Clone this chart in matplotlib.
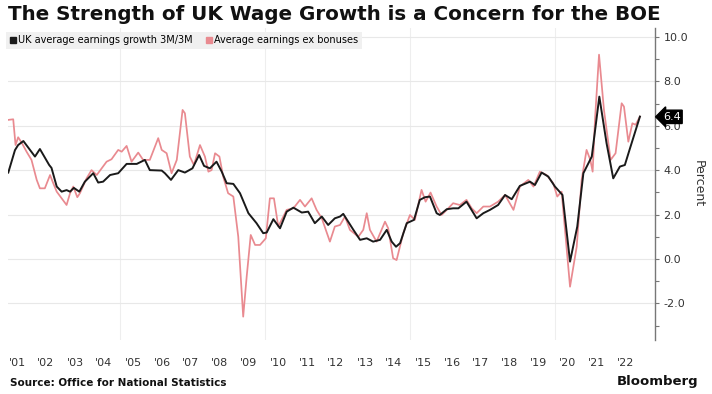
import numpy as np
import matplotlib
matplotlib.use("Agg")
import matplotlib.pyplot as plt
from matplotlib.lines import Line2D
from matplotlib.ticker import MultipleLocator, FixedLocator
from matplotlib.transforms import blended_transform_factory

# UK average earnings growth 3M/3M (fractional years)
total_t = [2001.15, 2001.38, 2001.49, 2001.67, 2002.07, 2002.24, 2002.56, 2002.64, 2002.82, 2002.99,
           2003.16, 2003.28, 2003.41, 2003.60, 2003.79, 2004.08, 2004.25, 2004.42, 2004.66, 2004.94,
           2005.23, 2005.58, 2005.86, 2006.03, 2006.44, 2006.55, 2006.76, 2007.01, 2007.24, 2007.50,
           2007.73, 2007.90, 2008.10, 2008.33, 2008.51, 2008.68, 2008.91, 2009.14, 2009.43, 2009.71,
           2009.94, 2010.06, 2010.29, 2010.52, 2010.75, 2010.98, 2011.27, 2011.49, 2011.72, 2011.96,
           2012.18, 2012.41, 2012.59, 2012.70, 2013.05, 2013.28, 2013.51, 2013.73, 2013.97, 2014.20,
           2014.37, 2014.52, 2014.66, 2014.89, 2015.14, 2015.34, 2015.52, 2015.69, 2015.92, 2016.03,
           2016.27, 2016.49, 2016.67, 2016.95, 2017.30, 2017.53, 2017.76, 2018.04, 2018.28, 2018.51,
           2018.79, 2019.14, 2019.31, 2019.54, 2019.77, 2020.00, 2020.26, 2020.52, 2020.77, 2020.98,
           2021.27, 2021.53, 2021.78, 2022.01, 2022.24, 2022.41, 2022.59, 2022.93]
total_v = [3.89, 4.90, 5.13, 5.31, 4.61, 4.95, 4.23, 4.10, 3.26, 3.03,
           3.10, 3.03, 3.20, 3.03, 3.48, 3.86, 3.44, 3.48, 3.78, 3.86,
           4.28, 4.28, 4.46, 4.00, 3.98, 3.86, 3.56, 4.00, 3.89, 4.08,
           4.68, 4.19, 4.08, 4.38, 3.93, 3.41, 3.38, 2.96, 2.06, 1.61,
           1.16, 1.19, 1.79, 1.38, 2.13, 2.31, 2.09, 2.13, 1.61, 1.91,
           1.53, 1.83, 1.91, 2.03, 1.31, 0.86, 0.93, 0.78, 0.86, 1.31,
           0.78, 0.55, 0.71, 1.61, 1.76, 2.66, 2.78, 2.81, 2.06, 1.98,
           2.24, 2.28, 2.28, 2.58, 1.83, 2.06, 2.21, 2.43, 2.88, 2.69,
           3.29, 3.48, 3.33, 3.89, 3.71, 3.26, 2.88, -0.12, 1.46, 3.86,
           4.61, 7.31, 5.21, 3.63, 4.16, 4.23, 4.99, 6.41]

# Average earnings ex bonuses
exb_t = [2001.14, 2001.32, 2001.40, 2001.49, 2001.61, 2001.78, 2001.95, 2002.13, 2002.24, 2002.41,
         2002.59, 2002.70, 2002.82, 2002.99, 2003.16, 2003.28, 2003.39, 2003.53, 2003.62, 2003.85,
         2004.02, 2004.20, 2004.54, 2004.71, 2004.94, 2005.06, 2005.23, 2005.40, 2005.63, 2005.80,
         2006.03, 2006.32, 2006.44, 2006.61, 2006.78, 2006.96, 2007.16, 2007.24, 2007.41, 2007.55,
         2007.76, 2007.93, 2008.05, 2008.16, 2008.28, 2008.43, 2008.56, 2008.73, 2008.91, 2009.08,
         2009.25, 2009.37, 2009.51, 2009.66, 2009.83, 2010.03, 2010.17, 2010.31, 2010.46, 2010.75,
         2010.98, 2011.21, 2011.38, 2011.61, 2011.78, 2011.96, 2012.24, 2012.41, 2012.59, 2012.76,
         2012.93, 2013.22, 2013.39, 2013.51, 2013.62, 2013.85, 2014.14, 2014.25, 2014.42, 2014.54,
         2014.77, 2015.00, 2015.17, 2015.40, 2015.54, 2015.71, 2015.92, 2016.09, 2016.27, 2016.49,
         2016.72, 2016.95, 2017.13, 2017.30, 2017.53, 2017.76, 2018.04, 2018.28, 2018.57, 2018.79,
         2019.08, 2019.26, 2019.48, 2019.71, 2019.94, 2020.08, 2020.23, 2020.52, 2020.75, 2020.92,
         2021.09, 2021.22, 2021.30, 2021.38, 2021.52, 2021.69, 2021.92, 2022.09, 2022.30, 2022.38,
         2022.53, 2022.67, 2022.78, 2022.93]
exb_v = [6.26, 6.29, 5.13, 5.48, 5.24, 4.83, 4.46, 3.56, 3.18, 3.18,
         3.78, 3.41, 3.03, 2.73, 2.43, 2.96, 3.26, 2.78, 2.96, 3.63,
         4.00, 3.78, 4.38, 4.49, 4.91, 4.83, 5.09, 4.38, 4.79, 4.46,
         4.46, 5.44, 4.91, 4.76, 3.86, 4.46, 6.71, 6.56, 4.61, 4.23,
         5.13, 4.61, 3.93, 4.00, 4.76, 4.61, 3.71, 2.96, 2.81, 1.00,
         -2.60, -0.80, 1.08, 0.63, 0.63, 0.93, 2.73, 2.73, 1.46, 2.21,
         2.28, 2.66, 2.36, 2.73, 2.21, 1.83, 0.78, 1.46, 1.53, 1.91,
         1.31, 1.00, 1.31, 2.06, 1.31, 0.78, 1.68, 1.38, 0.03, -0.05,
         1.16, 1.98, 1.76, 3.11, 2.58, 2.99, 2.36, 1.98, 2.21, 2.51,
         2.43, 2.66, 2.28, 2.06, 2.36, 2.36, 2.58, 2.88, 2.21, 3.26,
         3.56, 3.26, 3.93, 3.78, 3.41, 2.81, 3.03, -1.25, 0.55, 3.56,
         4.91, 4.46, 3.93, 6.26, 9.20, 6.71, 4.46, 4.76, 7.01, 6.86,
         5.28, 6.11, 6.04, 6.41]

years = list(range(2001, 2023))
year_labels = ["'%02d" % (y % 100) for y in years]
last_value = 6.4

black = "#1a1a1a"
pink = "#e98a90"

fig = plt.figure(figsize=(7.12, 3.94), dpi=100)
W, H = 712, 394
ax = fig.add_axes([8 / W, 1 - 340 / H, (655 - 8) / W, (340 - 28) / H])

ax.plot(exb_t, exb_v, color=pink, lw=1.25, zorder=2)
ax.plot(total_t, total_v, color=black, lw=1.4, zorder=3)

ax.set_xlim(2001.14, 2023.45)
ax.set_ylim(-3.65, 10.4)

ax.yaxis.tick_right()
ax.yaxis.set_label_position("right")
ax.yaxis.set_minor_locator(MultipleLocator(1))
ax.set_yticks([-2, 0, 2, 4, 6, 8, 10])
ax.set_yticklabels(["%.1f" % v for v in [-2, 0, 2, 4, 6, 8, 10]])
ax.tick_params(axis="y", which="major", length=3, width=0.8, color="#777777",
               labelsize=8, labelcolor="#333333", pad=3)
ax.tick_params(axis="y", which="minor", length=3, width=0.8, color="#777777")
ax.set_ylabel("Percent", rotation=270, labelpad=12, fontsize=9, color="#333333")

ax.set_xticks([y + 0.45 for y in years])
ax.set_xticklabels(year_labels)
ax.xaxis.set_minor_locator(FixedLocator([2005, 2010, 2015, 2020]))
ax.tick_params(axis="x", which="both", length=0, labelsize=8, labelcolor="#333333", pad=13)

ax.grid(axis="y", which="major", color="#e8e8e8", lw=0.8, zorder=0)
ax.grid(axis="x", which="minor", color="#eeeeee", lw=0.8, zorder=0)
ax.set_axisbelow(True)

for s in ["top", "left", "bottom"]:
    ax.spines[s].set_visible(False)
ax.spines["right"].set_color("#777777")
ax.spines["right"].set_linewidth(1.0)

# last value tag
tr = blended_transform_factory(ax.transAxes, ax.transData)
ax.text(1.012, last_value, "%.1f" % last_value, transform=tr, color="white", fontsize=8,
        va="center", ha="left", clip_on=False, zorder=5,
        bbox=dict(boxstyle="larrow,pad=0.15", fc="black", ec="black"))

# legend
handles = [Line2D([], [], marker="s", ls="", color=black, markersize=5),
           Line2D([], [], marker="s", ls="", color=pink, markersize=5)]
leg = ax.legend(handles, ["UK average earnings growth 3M/3M", "Average earnings ex bonuses"],
                loc="upper left", bbox_to_anchor=(-0.006, 0.995), ncol=2, fontsize=7,
                frameon=True, fancybox=False, handlelength=0.6, handletextpad=0.2,
                columnspacing=1.4, borderpad=0.4, borderaxespad=0.2)
leg.get_frame().set_facecolor("#f0f0f0")
leg.get_frame().set_edgecolor("none")
leg.get_frame().set_alpha(1)

fig.text(8 / W, 1 - 15 / H, "The Strength of UK Wage Growth is a Concern for the BOE",
         fontsize=14.3, fontweight="bold", va="center", ha="left", color="#111111")
fig.text(10 / W, 1 - 383 / H, "Source: Office for National Statistics", fontsize=7.5,
         fontweight="bold", va="center", ha="left", color="#111111")
fig.text(698 / W, 1 - 382 / H, "Bloomberg", fontsize=9.5, fontweight="bold",
         va="center", ha="right", color="#111111")

fig.savefig("out.png", dpi=100, facecolor="white")
